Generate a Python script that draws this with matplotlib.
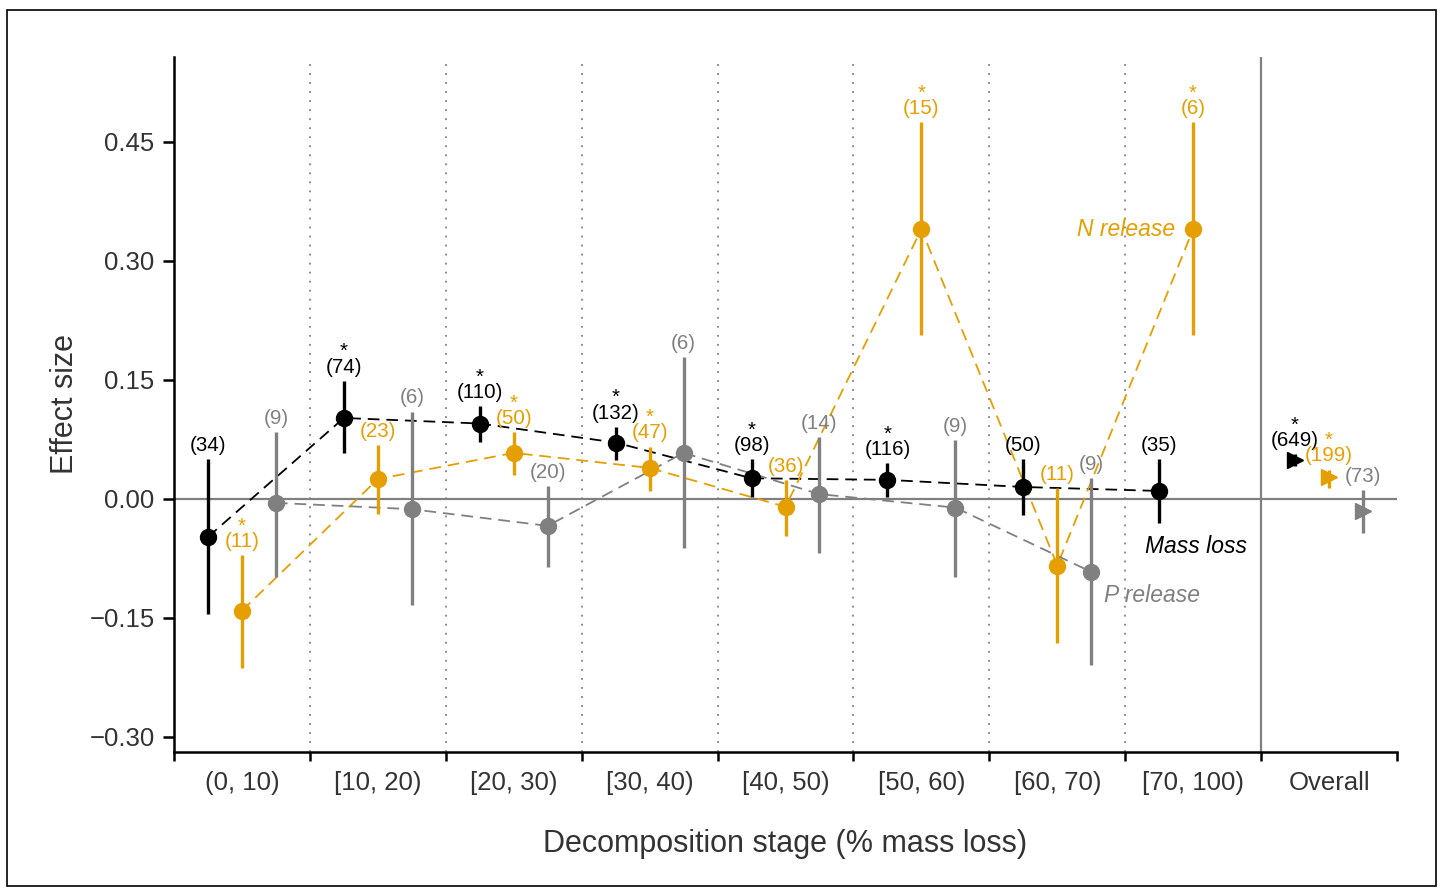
import numpy as np
import matplotlib.pyplot as plt
from matplotlib.patches import Rectangle

plt.rcParams['font.family'] = ['Liberation Sans', 'DejaVu Sans']

# === data ===
stages = ["(0, 10)", "[10, 20)", "[20, 30)", "[30, 40)", "[40, 50)",
          "[50, 60)", "[60, 70)", "[70, 100)", "Overall"]

# mass loss (black)
mass_mean = [-0.048, 0.102, 0.095, 0.071, 0.026, 0.024, 0.015, 0.010]
mass_lo = [-0.145, 0.058, 0.072, 0.049, 0.003, 0.003, -0.020, -0.030]
mass_hi = [0.050, 0.149, 0.117, 0.091, 0.050, 0.045, 0.050, 0.050]
mass_n = [34, 74, 110, 132, 98, 116, 50, 35]
mass_sig = [False, True, True, True, True, True, False, False]

# N release (orange)
n_mean = [-0.141, 0.025, 0.058, 0.039, -0.010, 0.340, -0.084, 0.340]
n_lo = [-0.213, -0.019, 0.030, 0.010, -0.047, 0.207, -0.182, 0.207]
n_hi = [-0.071, 0.068, 0.084, 0.066, 0.024, 0.475, 0.014, 0.475]
n_n = [11, 23, 50, 47, 36, 15, 11, 6]
n_sig = [True, False, True, True, False, True, False, True]

# P release (gray), no data for [70, 100)
p_mean = [-0.005, -0.013, -0.034, 0.058, 0.006, -0.011, -0.092, np.nan]
p_lo = [-0.098, -0.134, -0.086, -0.062, -0.068, -0.098, -0.209, np.nan]
p_hi = [0.084, 0.110, 0.016, 0.179, 0.078, 0.074, 0.026, np.nan]
p_n = [9, 6, 20, 6, 14, 9, 9, None]
p_sig = [False] * 8

# overall estimates: mass, N, P
overall_mean = [0.049, 0.028, -0.015]
overall_lo = [0.042, 0.014, -0.043]
overall_hi = [0.056, 0.037, 0.011]
overall_n = [649, 199, 73]
overall_sig = [True, True, False]

BLACK = "black"
ORANGE = "#E69F00"
GRAY = "#808080"
TXT = "#333333"
NFS = 14.8   # sample size labels

fig = plt.figure(figsize=(14.45, 8.88), dpi=100)
ax = fig.add_axes([0.1204, 0.1532, 0.8464, 0.7826])
fig.patches.append(Rectangle((0.005, 0.002), 0.989, 0.987, transform=fig.transFigure,
                             fill=False, edgecolor="black", linewidth=1.2))

ax.set_xlim(-0.5, 8.5)
ax.set_ylim(-0.319, 0.557)

# separators
for b in np.arange(0.5, 7.5, 1.0):
    ax.axvline(b, color=GRAY, linestyle=(0, (1, 4)), linewidth=1.3, zorder=1)
ax.axvline(7.5, color=GRAY, linewidth=1.6, zorder=1)
ax.axhline(0, color=GRAY, linewidth=1.6, zorder=1)


def label_ci(xi, top, n, s, color):
    # star (significance) stacked above the sample size, one text object
    txt = f"*\n({n})" if s else f"({n})"
    ax.annotate(txt, (xi, top), xytext=(0, 3), textcoords="offset points",
                ha="center", va="bottom", multialignment="center",
                linespacing=0.75, fontsize=NFS, color=color)


def draw_series(offset, mean, lo, hi, ns, sig, color):
    x = np.arange(len(mean)) + offset
    mean = np.array(mean, dtype=float)
    ax.plot(x, mean, color=color, linestyle="--", dashes=(6.5, 3.8), linewidth=1.3, zorder=2)
    for xi, m, l, h, n, s in zip(x, mean, lo, hi, ns, sig):
        if np.isnan(m):
            continue
        ax.plot([xi, xi], [l, h], color=color, linewidth=2.4, zorder=3, solid_capstyle="butt")
        ax.plot(xi, m, "o", color=color, markersize=11.5, zorder=4)
        label_ci(xi, h, n, s, color)


draw_series(-0.25, mass_mean, mass_lo, mass_hi, mass_n, mass_sig, BLACK)
draw_series(0.0, n_mean, n_lo, n_hi, n_n, n_sig, ORANGE)
draw_series(0.25, p_mean, p_lo, p_hi, p_n, p_sig, GRAY)

# overall
for k, (off, color) in enumerate([(-0.25, BLACK), (0.0, ORANGE), (0.25, GRAY)]):
    xi = 8 + off
    ax.plot([xi, xi], [overall_lo[k], overall_hi[k]], color=color, linewidth=2.4, zorder=3,
            solid_capstyle="butt")
    ax.plot(xi, overall_mean[k], ">", color=color, markersize=11, zorder=4)
    label_ci(xi, overall_hi[k], overall_n[k], overall_sig[k], color)

# series labels
ax.text(6.87, 0.340, "N release", color=ORANGE, fontsize=16.5, style="italic", ha="right", va="center")
ax.text(7.02, -0.0605, "Mass loss", color=BLACK, fontsize=16.5, style="italic", ha="center", va="center")
ax.text(6.70, -0.122, "P release", color=GRAY, fontsize=16.5, style="italic", ha="center", va="center")

# axes styling
for side in ["top", "right"]:
    ax.spines[side].set_visible(False)
for side in ["left", "bottom"]:
    ax.spines[side].set_linewidth(1.8)

yt = [-0.30, -0.15, 0.0, 0.15, 0.30, 0.45]
ax.set_yticks(yt)
ax.set_yticklabels([f"{v:.2f}".replace("-", "\u2212") for v in yt])
ax.set_xticks(np.arange(-0.5, 9.0, 1.0))
ax.set_xticklabels([])
ax.set_xticks(np.arange(9), minor=True)
ax.set_xticklabels(stages, minor=True)
ax.tick_params(axis="x", which="major", length=6.5, width=1.8, direction="out")
ax.tick_params(axis="x", which="minor", length=0, pad=14, labelsize=18.5, labelcolor=TXT)
ax.tick_params(axis="y", length=8, width=1.8, direction="out", pad=6, labelsize=18.5, labelcolor=TXT)

ax.set_xlabel("Decomposition stage (% mass loss)", fontsize=22, color=TXT, labelpad=24)
ax.set_ylabel("Effect size", fontsize=22, color=TXT, labelpad=7)

fig.savefig("out.png", dpi=100)
